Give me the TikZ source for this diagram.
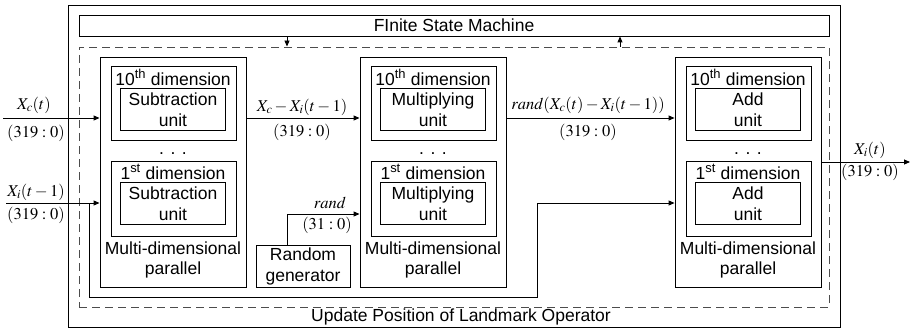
\documentclass[tikz,border=0pt]{standalone}
\usepackage{mathptmx}
\usepackage[no-math]{fontspec}
\setmainfont{Liberation Sans}
\usetikzlibrary{arrows.meta,calc}

\begin{document}
\begin{tikzpicture}[x=1pt,y=-1pt,
  box/.style={draw, line width=0.9pt, inner sep=0pt, align=center,
    font=\fontsize{17.5}{21}\selectfont},
  txt/.style={inner sep=0pt, align=center, font=\fontsize{17.5}{20}\selectfont},
  lbl/.style={inner sep=0pt, font=\fontsize{16.5}{19}\selectfont},
  wire/.style={line width=0.9pt},
  arr/.style={line width=0.9pt, -{Triangle[length=6pt,width=5pt]}},
  parbox/.style={box, minimum width=146pt, minimum height=230pt},
  dimbox/.style={box, minimum width=125pt, minimum height=74pt},
  unitbox/.style={box, minimum width=105pt, minimum height=42pt}]
\useasboundingbox (0,0) rectangle (912,329);

% frames
\node[box, minimum width=772pt, minimum height=322pt] (outer) at (454,166) {};
\node[box, minimum width=750pt, minimum height=21pt] (fsm) at (454,25.5) {FInite State Machine};
\node[draw, line width=0.9pt, black!70, dash pattern=on 8pt off 5pt,
  minimum width=750pt, minimum height=260pt, inner sep=0pt] (upd) at (454,177) {};
\node[txt] (updlbl) at (461,317) {Update Position of Landmark Operator};

% the three multi-dimensional stages
\foreach \cx/\nm/\unit in {173/p1/Subtraction, 433/p2/Multiplying, 748/p3/Add} {
  \node[parbox] (\nm) at (\cx,172) {};
  \node[dimbox] (\nm top) at (\cx+0.5,103) {};
  \node[dimbox, minimum height=75pt] (\nm bot) at (\cx+0.5,198.5) {};
  \node[unitbox] (\nm tu) at (\cx,109.5) {\unit\\unit};
  \node[unitbox] (\nm bu) at (\cx,203.5) {\unit\\unit};
  \node[txt, anchor=base] (\nm tl) at (\cx,85) {10\textsuperscript{th} dimension};
  \node[txt, anchor=base] (\nm bl) at (\cx,179) {1\textsuperscript{st} dimension};
  \node[txt, anchor=base] (\nm dots) at (\cx,154) {. . .};
  \node[txt] (\nm pl) at (\cx,260) {Multi-dimensional\\parallel};
}

\node[box, minimum width=94pt, minimum height=42pt] (rng) at (303,266) {Random\\generator};

% control arrows between the state machine and the operator
\coordinate (fa) at (287,0);
\coordinate (fb) at (620,0);
\draw[arr] (fsm.south -| fa) -- (upd.north -| fa);
\draw[arr] (upd.north -| fb) -- (fsm.south -| fb);

% inputs
\coordinate (xcin) at (3,118);
\coordinate (xiin) at (6,203);
\draw[arr] (xcin) -- (xcin -| p1.west);
\draw[arr] (xiin) -- (xiin -| p1.west);
\node[lbl] (lxc) at (34,105) {$X_c(t)$};
\node[lbl] (lxcw) at (36,133) {$(319:0)$};
\node[lbl] (lxi) at (36,192) {$X_i(t-1)$};
\node[lbl] (lxiw) at (36,215) {$(319:0)$};

% X_i(t-1) routed round to the adder stage
\coordinate (tap) at (89,203);
\coordinate (loopb) at (89,297);
\coordinate (riser) at (537,297);
\draw[arr] (tap) -- (loopb) -- (riser) |- (xiin -| p3.west);

% data path between stages
\draw[arr] (p1.east |- xcin) -- (p2.west |- xcin);
\node[lbl] (ld1) at (302,107) {$X_c-X_i(t-1)$};
\node[lbl] (ld1w) at (302,132) {$(319:0)$};
\draw[arr] (p2.east |- xcin) -- (p3.west |- xcin);
\node[lbl] (ld2) at (588,105) {$rand(X_c(t)-X_i(t-1))$};
\node[lbl] (ld2w) at (588,132) {$(319:0)$};

% random number into the multiplier
\coordinate (randy) at (287,214);
\draw[arr] (rng.north -| randy) |- (p2.west |- randy);
\node[lbl] (lr) at (330,203) {$rand$};
\node[lbl] (lrw) at (327,225) {$(31:0)$};

% output
\coordinate (outend) at (910,162);
\draw[arr] (p3.east |- outend) -- (outend);
\node[lbl] (lo) at (870,150) {$X_i(t)$};
\node[lbl] (low) at (870,172) {$(319:0)$};
\end{tikzpicture}
\end{document}
